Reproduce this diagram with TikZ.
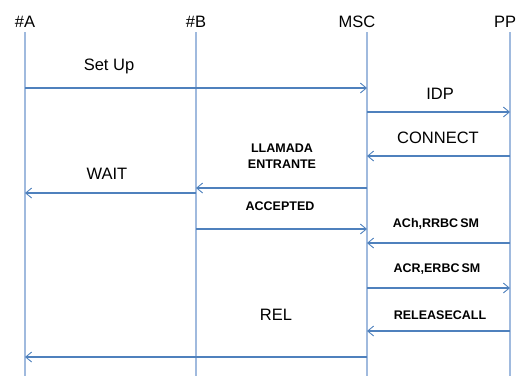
\documentclass[tikz,border=0pt]{standalone}
\usepackage{fontspec}
\setmainfont{Liberation Sans}
\usetikzlibrary{arrows.meta}
\definecolor{lifeblue}{RGB}{160,186,222}
\definecolor{msgblue}{RGB}{79,129,189}
\tikzset{
  head/.style={font=\fontsize{16.5}{18}\selectfont, inner sep=0pt},
  lbl/.style={font=\fontsize{16.5}{18}\selectfont, inner sep=0pt},
  blbl/.style={font=\bfseries\fontsize{12.5}{15.5}\selectfont, inner sep=0pt, align=center},
  lifeline/.style={draw=lifeblue, line width=1.4pt},
  msg/.style={draw=msgblue, line width=1.1pt, -{Straight Barb[length=6pt,width=10pt,line width=0.9pt]}}
}
\begin{document}
\begin{tikzpicture}[x=1pt,y=-1pt]
\useasboundingbox (0,0) rectangle (521,376);
% lifeline heads
\node[head] (A) at (25,22) {\#A};
\node[head] (B) at (196,22) {\#B};
\node[head] (MSC) at (357,22) {MSC};
\node[head] (PP) at (505,22) {PP};
% lifeline axes
\coordinate (At) at (25,32);   \coordinate (Ab) at (25,376);
\coordinate (Bt) at (196,32);  \coordinate (Bb) at (196,376);
\coordinate (Mt) at (367,32);  \coordinate (Mb) at (367,376);
\coordinate (Pt) at (510,32);  \coordinate (Pb) at (510,376);
\draw[lifeline] (At) -- (Ab);
\draw[lifeline] (Bt) -- (Bb);
\draw[lifeline] (Mt) -- (Mb);
\draw[lifeline] (Pt) -- (Pb);
% messages
\draw[msg] (At |- 0,88) -- (Mt |- 0,88);
\node[lbl] (setup) at (109,66) {Set Up};
\draw[msg] (Mt |- 0,112) -- (Pt |- 0,112);
\node[lbl] (idp) at (440,94) {IDP};
\draw[msg] (Pt |- 0,156) -- (Mt |- 0,156);
\node[lbl] (connect) at (438,138) {CONNECT};
\draw[msg] (Mt |- 0,188) -- (Bt |- 0,188);
\node[blbl] (llamada) at (282,156) {LLAMADA\\ENTRANTE};
\draw[msg] (Bt |- 0,193) -- (At |- 0,193);
\node[lbl] (wait) at (107,174) {WAIT};
\draw[msg] (Bt |- 0,229) -- (Mt |- 0,229);
\node[blbl] (accepted) at (280,206) {ACCEPTED};
\draw[msg] (Pt |- 0,243) -- (Mt |- 0,243);
\node[blbl] (ach) at (436,224) {ACh,RRBC\,SM};
\draw[msg] (Mt |- 0,288) -- (Pt |- 0,288);
\node[blbl] (acr) at (437,269.5) {ACR,ERBC\,SM};
\draw[msg] (Pt |- 0,331) -- (Mt |- 0,331);
\node[blbl] (relcall) at (440,315) {RELEASECALL};
\draw[msg] (Mt |- 0,357) -- (At |- 0,357);
\node[lbl] (rel) at (276,315) {REL};
\end{tikzpicture}
\end{document}
